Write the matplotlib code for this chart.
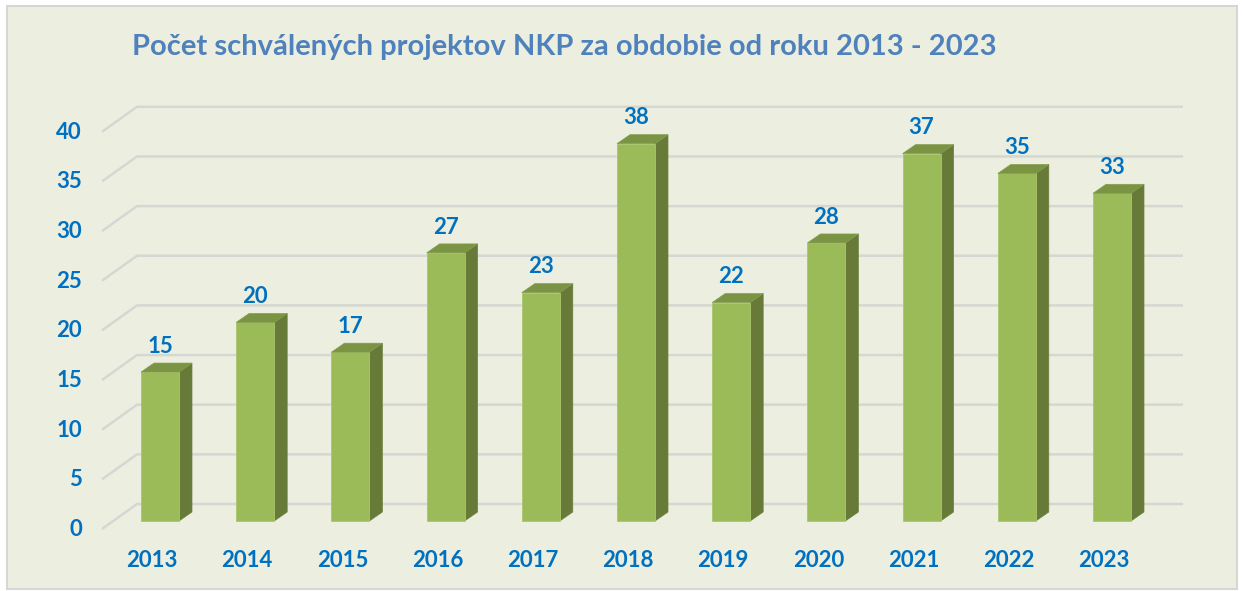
import matplotlib.pyplot as plt
from matplotlib.patches import Polygon, Rectangle

# udaje
roky = ["2013", "2014", "2015", "2016", "2017", "2018", "2019", "2020", "2021", "2022", "2023"]
pocty = [15, 20, 17, 27, 23, 38, 22, 28, 37, 35, 33]
yticky = [0, 5, 10, 15, 20, 25, 30, 35, 40]

W, H = 1244, 591
fig = plt.figure(figsize=(W / 100, H / 100), dpi=100)
fig.patch.set_facecolor("white")

ax = fig.add_axes([0, 0, 1, 1])
ax.set_facecolor("none")
ax.add_patch(Rectangle((7 / W, 2 / H), 1230 / W, 583 / H, transform=fig.transFigure,
                       facecolor="#ECEFE0", edgecolor="#D6D6D6", linewidth=1.5, zorder=0))
# mierka: stred stlpca i na pixeli 160 + 95.2*i, hodnota 0 na pixeli 521, 9.93 px na jednotku
px = 95.2
py = 9.93
ax.set_xlim(-160 / px, (W - 160) / px)
ax.set_ylim(-(H - 521) / py, 521 / py)
ax.axis("off")

# perspektiva
zad = 17 / py       # zadna stena nad prednou hranou stlpca
pred = 8 / py       # predna hrana podlahy pod stlpcom
x_zad = -23 / px
x_pred = -58 / px
x_kon = (1183 - 160) / px

for v in yticky:
    ax.plot([x_pred, x_zad, x_kon], [v - pred, v + zad, v + zad], color="#D5D7D3", lw=1.8, zorder=1,
            solid_capstyle="butt")
    ax.text(-78 / px, v - pred - 0.05, str(v), ha="right", va="center", color="#0070C0",
            fontsize=16, fontweight="bold", family="Lato")

sirka = 38 / px
dx = 13 / px
dy = 9 / py
x = list(range(len(roky)))
ax.bar(x, pocty, width=sirka, color="#9BBB59", edgecolor="#A9C66E", linewidth=0.6, zorder=3)
for i, v in zip(x, pocty):
    l, r = i - sirka / 2, i + sirka / 2
    ax.add_patch(Polygon([(r, 0), (r + dx, dy), (r + dx, v + dy), (r, v)], closed=True,
                         facecolor="#687A37", edgecolor="#6E8040", lw=0.5, zorder=2))
    ax.add_patch(Polygon([(l, v), (r, v), (r + dx, v + dy), (l + dx, v + dy)], closed=True,
                         facecolor="#7A9444", edgecolor="#849E4E", lw=0.5, zorder=4))
    ax.text(i, v + 2.6, str(v), ha="center", va="center", color="#0070C0",
            fontsize=16, fontweight="bold", family="Lato", zorder=5)
    ax.text(i - 8 / px, -3.95, roky[i], ha="center", va="center", color="#0070C0",
            fontsize=16, fontweight="bold", family="Lato")

fig.text(564 / W, 1 - 47 / H, "Počet schválených projektov NKP za obdobie od roku 2013 - 2023",
         ha="center", va="center", color="#4F81BD", fontsize=21, fontweight="bold", family="Lato")

fig.savefig("out.png", dpi=100)
